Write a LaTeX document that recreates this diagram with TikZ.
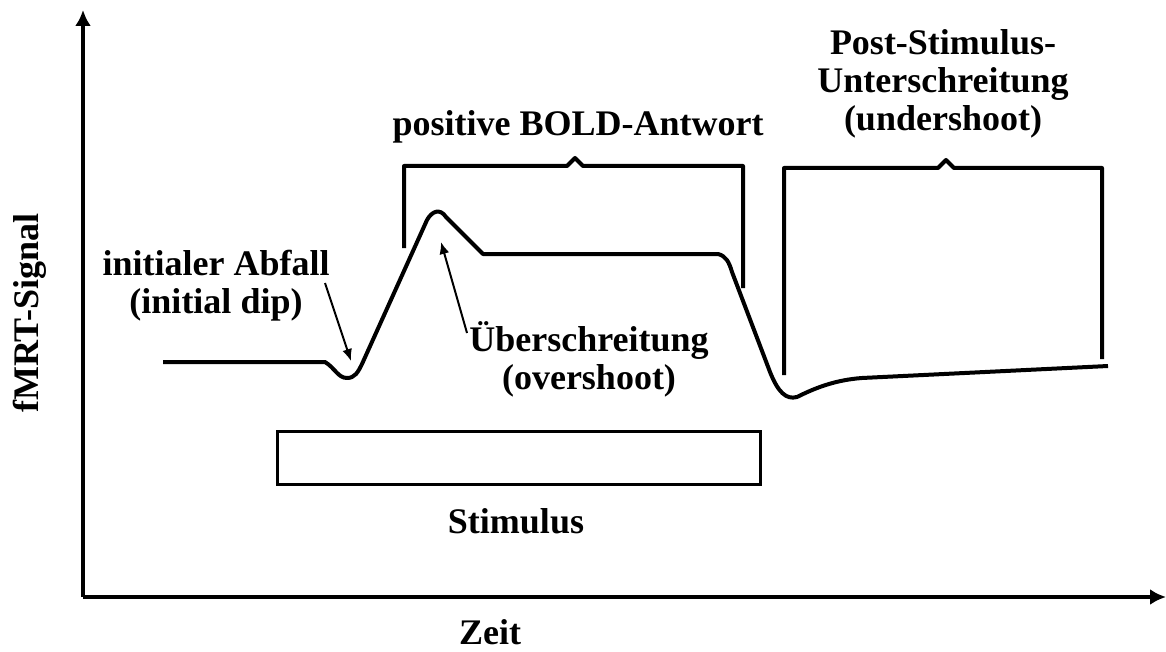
\documentclass[tikz,border=0pt]{standalone}
\usepackage{fontspec}
\setmainfont{Liberation Serif}
\usepackage{tikz}
\usetikzlibrary{arrows.meta}

\begin{document}
\begin{tikzpicture}[x=0.5pt,y=-0.5pt,
	lbl/.style={font=\fontsize{18}{19}\selectfont\bfseries, align=center, inner sep=0pt},
	thick line/.style={line width=2pt, line join=round},
	pointer/.style={line width=1pt, -{Latex[length=6pt,width=5pt]}}]
\useasboundingbox (0,0) rectangle (1166,652);
% axes
\coordinate (o) at (83,597);
\draw [thick line, -{Latex[length=8pt,width=8pt]}] (o) -- (83,10) coordinate (ytop);
\draw [thick line, -{Latex[length=8pt,width=8pt]}] (o) -- (1166,597) coordinate (xend);
\node [lbl, rotate=90] (ylab) at (30,313) {fMRT-Signal};
\node [lbl] (xlab) at (490,632) {Zeit};
% signal
\draw [thick line] (163,362) -- (325,362)
	.. controls (335,368) and (338,378) .. (347,378) coordinate (dip)
	.. controls (355,378) and (358,372) .. (362,364)
	-- (427,220) .. controls (432,211) and (440,208) .. (446,217) coordinate (peak)
	-- (483,254) -- (718,254)
	.. controls (726,256) and (729,262) .. (732,272)
	-- (770,372) .. controls (778,392) and (786,400) .. (797,397)
	.. controls (815,388) and (835,380) .. (862,378)
	-- (1108,366);
% stimulus
\draw [line width=1.5pt] (277,431) rectangle (760,484);
\node [lbl] (stim) at (516,521) {Stimulus};
% brackets
\draw [thick line] (404,248) -- (404,166) -- (567,166) -- (575,158) -- (583,166)
	-- (743,166) -- (743,288);
\node [lbl] (bold) at (578,127) {positive BOLD-Antwort};
\draw [thick line] (784,375) -- (784,168) -- (938,168) -- (946,160) -- (954,168)
	-- (1102,168) -- (1102,359);
\node [lbl] (under) at (943,84) {Post-Stimulus-\\Unterschreitung\\(undershoot)};
% labels with arrows
\node [lbl] (dipl) at (216,286) {initialer Abfall\\(initial dip)};
\coordinate (diptail) at (325,283);
\coordinate (diptip) at (351,361);
\draw [pointer] (diptail) -- (diptip);
\node [lbl] (over) at (589,359) {Überschreitung\\(overshoot)};
\coordinate (overtail) at (467,333);
\coordinate (overtip) at (441,242);
\draw [pointer] (overtail) -- (overtip);
\end{tikzpicture}
\end{document}
